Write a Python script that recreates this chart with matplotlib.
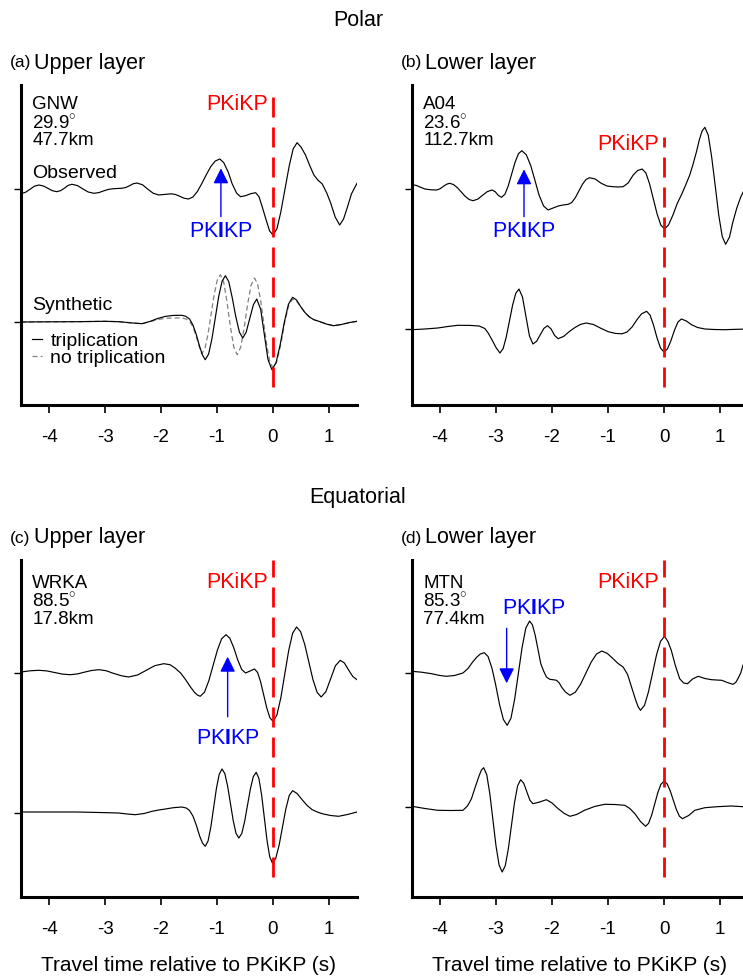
import numpy as np
import matplotlib
matplotlib.use('Agg')
import matplotlib.pyplot as plt

plt.rcParams['font.family'] = ['Liberation Sans', 'DejaVu Sans']
plt.rcParams['mathtext.fontset'] = 'custom'
plt.rcParams['mathtext.rm'] = 'Liberation Sans'
plt.rcParams['mathtext.bf'] = 'Liberation Sans:bold'
plt.rcParams['axes.unicode_minus'] = False

# time relative to PKiKP (s) and normalised amplitude
obs_a_t = [-4.50, -4.42, -4.34, -4.26, -4.18, -4.10, -4.02, -3.94, -3.86, -3.79,
           -3.72, -3.66, -3.59, -3.49, -3.40, -3.30, -3.20, -3.11, -3.03, -2.94,
           -2.85, -2.78, -2.70, -2.63, -2.56, -2.50, -2.43, -2.33, -2.24, -2.14,
           -2.04, -1.93, -1.82, -1.74, -1.66, -1.59, -1.51, -1.43, -1.35, -1.27,
           -1.19, -1.11, -1.03, -0.95, -0.88, -0.80, -0.73, -0.65, -0.58, -0.49,
           -0.40, -0.31, -0.25, -0.19, -0.12, -0.06, 0.00, 0.07, 0.14, 0.215,
           0.29, 0.36, 0.43, 0.50, 0.58, 0.66, 0.73, 0.80, 0.88, 0.96,
           1.03, 1.11, 1.19, 1.26, 1.33, 1.40, 1.46, 1.50]
obs_a_amp = [-4.5, -3.3, -0.3, 2.8, 4.0, 3.0, 0.7, -1.7, -2.7, -1.6,
             1.0, 3.6, 4.7, 3.4, 0.2, -3.0, -4.3, -3.6, -2.0, -0.4,
             0.3, 0.5, 0.7, 1.5, 3.3, 5.2, 6.0, 4.2, 0.0, -4.2,
             -6.0, -5.4, -4.8, -5.5, -7.4, -9.2, -10.0, -8.0, -2.5, 5.6,
             14.4, 22.5, 28.0, 30.0, 26.4, 17.0, 5.3, -4.1, -7.7, -6.7,
             -4.7, -3.7, -7.7, -18.3, -31.4, -42.0, -46.0, -39.8, -22.9, 0.2,
             23.2, 40.1, 46.3, 42.0, 34.0, 23.0, 14.0, 9.0, 5.0, -4.0,
             -14.0, -28.0, -36.0, -30.0, -18.0, -5.0, 1.5, 5.7]

syn_a_t = [-4.50, -4.00, -3.50, -3.00, -2.75, -2.55, -2.34, -2.20, -2.06, -1.92,
           -1.78, -1.63, -1.56, -1.49, -1.43, -1.37, -1.31, -1.26, -1.21, -1.15,
           -1.09, -1.03, -0.97, -0.91, -0.85, -0.79, -0.73, -0.665, -0.60, -0.54,
           -0.48, -0.415, -0.35, -0.29, -0.22, -0.155, -0.09, -0.02, 0.054, 0.128,
           0.202, 0.276, 0.35, 0.42, 0.49, 0.57, 0.65, 0.73, 0.82, 0.95,
           1.08, 1.22, 1.36, 1.50]
syn_a_amp = [0.0, 0.2, 0.3, 0.7, 0.3, -0.8, -1.7, 0.5, 3.5, 5.6,
             6.6, 6.7, 5.8, 3.0, -3.0, -12.5, -24.5, -33.0, -37.7, -32.1,
             -16.7, 4.3, 25.3, 40.7, 46.3, 40.4, 24.8, 5.5, -10.1, -16.0,
             -10.3, 3.5, 17.3, 23.0, 12.7, -12.4, -37.4, -47.7, -40.8, -22.7,
             -0.3, 17.8, 24.7, 22.0, 15.7, 9.5, 5.0, 2.3, 0.7, -2.0,
             -3.7, -2.5, -0.6, 0.7]

notrip_a_t = [-4.50, -4.00, -3.50, -3.00, -2.75, -2.55, -2.34, -2.20, -2.06, -1.92,
              -1.78, -1.63, -1.55, -1.48, -1.42, -1.36, -1.31, -1.27, -1.215, -1.16,
              -1.105, -1.05, -0.995, -0.94, -0.88, -0.82, -0.76, -0.70, -0.64, -0.578,
              -0.516, -0.454, -0.392, -0.33, -0.275, -0.22, -0.165, -0.11, -0.055, 0.00,
              0.07, 0.14, 0.21, 0.28, 0.35, 0.42, 0.49, 0.57, 0.65, 0.73,
              0.82, 0.95, 1.08, 1.22, 1.36, 1.50]
notrip_a_amp = [0.0, 0.2, 0.3, 0.7, 0.3, -0.8, -1.7, 0.2, 2.5, 3.6,
                4.0, 4.0, 3.0, 0.0, -6.0, -16.5, -26.0, -31.7, -26.4, -11.9,
                7.8, 27.6, 42.0, 47.3, 39.7, 19.7, -5.1, -25.1, -32.7, -25.4,
                -6.2, 17.5, 36.7, 44.0, 38.0, 21.5, -1.0, -23.5, -40.0, -46.0,
                -39.4, -22.2, -0.2, 16.5, 23.0, 21.0, 15.7, 9.5, 5.0, 2.3,
                0.7, -2.0, -3.7, -2.5, -0.6, 0.7]

obs_b_t = [-4.50, -4.42, -4.34, -4.27, -4.16, -4.06, -4.00, -3.94, -3.88, -3.83,
           -3.76, -3.69, -3.62, -3.55, -3.48, -3.41, -3.325, -3.24, -3.155, -3.07,
           -3.013, -2.957, -2.90, -2.84, -2.78, -2.72, -2.66, -2.60, -2.54, -2.46,
           -2.38, -2.305, -2.23, -2.15, -2.07, -1.98, -1.89, -1.80, -1.71, -1.647,
           -1.583, -1.52, -1.457, -1.393, -1.33, -1.23, -1.12, -1.02, -0.91, -0.82,
           -0.73, -0.64, -0.55, -0.47, -0.39, -0.323, -0.257, -0.19, -0.123, -0.057,
           0.01, 0.08, 0.16, 0.24, 0.31, 0.38, 0.46, 0.52, 0.58, 0.63,
           0.68, 0.73, 0.79, 0.85, 0.915, 0.977, 1.04, 1.10, 1.17, 1.23,
           1.30, 1.37, 1.44, 1.50]
obs_b_amp = [4.5, 3.5, 1.6, 0.0, -0.8, -1.0, 0.2, 2.6, 4.8, 5.7,
             4.5, 1.35, -3.0, -7.3, -10.5, -11.7, -10.1, -6.3, -2.6, -1.0,
             -2.8, -6.5, -8.3, -5.2, 3.35, 15.0, 26.6, 35.2, 38.3, 34.3,
             23.5, 8.65, -6.2, -17.0, -21.0, -19.0, -17.0, -16.0, -15.3, -13.5,
             -8.65, -2.0, 4.65, 9.5, 11.3, 10.0, 5.7, 3.0, 2.3, 2.0,
             2.3, 6.0, 14.0, 18.5, 20.0, 16.0, 5.0, -10.0, -25.0, -36.0,
             -40.0, -36.0, -26.0, -14.0, -6.0, 3.0, 14.0, 25.0, 37.3, 49.0,
             58.0, 61.7, 53.9, 32.5, 3.2, -26.0, -47.5, -55.3, -48.0, -33.0,
             -19.0, -8.0, 0.0, 5.0]

syn_b_t = [-4.50, -4.27, -4.04, -3.86, -3.68, -3.47, -3.30, -3.20, -3.14, -3.07,
           -3.00, -2.93, -2.873, -2.817, -2.76, -2.703, -2.647, -2.59, -2.5275, -2.465,
           -2.4025, -2.34, -2.275, -2.21, -2.145, -2.08, -2.017, -1.953, -1.89, -1.79,
           -1.69, -1.59, -1.49, -1.39, -1.26, -1.13, -1.00, -0.87, -0.75, -0.66,
           -0.57, -0.48, -0.40, -0.31, -0.248, -0.186, -0.124, -0.062, 0.00, 0.062,
           0.124, 0.186, 0.248, 0.31, 0.40, 0.49, 0.60, 0.73, 0.90, 1.08,
           1.30, 1.50]
syn_b_amp = [-0.7, 0.0, 1.0, 2.5, 3.7, 3.6, 3.0, 0.5, -4.0, -11.0,
             -18.5, -24.0, -19.7, -8.0, 8.0, 24.0, 35.7, 40.0, 32.0, 12.5,
             -7.0, -15.0, -12.3, -5.85, 0.6, 3.3, 0.1, -6.5, -9.7, -7.3,
             -2.5, 1.5, 4.6, 6.0, 4.5, 0.8, -2.6, -4.4, -4.8, -3.0,
             2.0, 9.5, 15.2, 17.7, 13.8, 3.7, -9.0, -19.1, -23.0, -19.9,
             -11.6, -1.4, 6.9, 10.0, 8.0, 4.3, 1.5, 0.0, -0.5, -0.7,
             -0.3, 0.0]

obs_c_t = [-4.50, -4.34, -4.18, -4.04, -3.90, -3.76, -3.62, -3.49, -3.37, -3.24,
           -3.11, -2.98, -2.85, -2.71, -2.58, -2.42, -2.265, -2.11, -1.95, -1.84,
           -1.75, -1.65, -1.56, -1.48, -1.40, -1.35, -1.30, -1.223, -1.147, -1.07,
           -0.993, -0.917, -0.84, -0.77, -0.70, -0.63, -0.56, -0.49, -0.41, -0.33,
           -0.275, -0.22, -0.165, -0.11, -0.055, 0.00, 0.07, 0.14, 0.21, 0.28,
           0.35, 0.42, 0.493, 0.567, 0.64, 0.713, 0.787, 0.86, 0.945, 1.03,
           1.115, 1.20, 1.275, 1.35, 1.425, 1.50]
obs_c_amp = [1.0, 2.2, 2.7, 2.1, 0.5, -1.1, -1.7, -0.9, 0.8, 2.5,
             3.3, 2.3, -0.35, -2.7, -4.0, -2.05, 2.65, 7.35, 9.3, 8.3,
             5.0, 0.0, -6.7, -13.5, -19.5, -22.0, -23.3, -19.2, -7.9, 7.5,
             22.9, 34.2, 38.3, 34.7, 25.1, 13.2, 3.6, 0.0, 2.0, 4.0,
             0.5, -9.1, -22.2, -35.2, -44.8, -48.3, -42.0, -24.7, -1.15, 22.4,
             39.7, 46.0, 41.3, 28.5, 11.0, -6.5, -19.3, -24.0, -18.6, -5.65,
             7.3, 12.7, 10.0, 3.0, -3.5, -6.7]

syn_c_t = [-4.50, -4.00, -3.50, -3.10, -2.76, -2.60, -2.46, -2.30, -2.16, -2.04,
           -1.92, -1.78, -1.63, -1.55, -1.49, -1.43, -1.37, -1.31, -1.26, -1.21,
           -1.16, -1.11, -1.06, -1.01, -0.96, -0.91, -0.86, -0.81, -0.76, -0.71,
           -0.66, -0.61, -0.558, -0.507, -0.455, -0.403, -0.352, -0.30, -0.252, -0.203,
           -0.155, -0.107, -0.058, -0.01, 0.05, 0.11, 0.17, 0.23, 0.29, 0.35,
           0.43, 0.52, 0.61, 0.70, 0.80, 0.90, 1.03, 1.17, 1.33, 1.50]
syn_c_amp = [1.0, 1.0, 1.0, 0.5, 0.0, -1.0, -1.7, -0.5, 1.7, 3.0,
             4.0, 5.3, 6.0, 5.0, 2.5, -3.0, -12.0, -23.0, -30.0, -33.3,
             -28.1, -14.0, 5.35, 24.7, 38.8, 44.0, 39.4, 26.75, 9.5, -7.75,
             -20.4, -25.0, -20.6, -8.6, 7.85, 24.3, 36.3, 40.7, 34.6, 18.0,
             -4.65, -27.3, -43.9, -50.0, -45.2, -31.9, -13.85, 4.2, 17.5, 22.3,
             19.5, 13.3, 7.5, 3.3, 0.8, -1.0, -2.5, -3.3, -1.5, 1.0]

obs_d_t = [-4.50, -4.33, -4.15, -4.02, -3.89, -3.74, -3.59, -3.50, -3.43, -3.35,
           -3.28, -3.21, -3.142, -3.073, -3.005, -2.937, -2.868, -2.80, -2.733, -2.667,
           -2.60, -2.533, -2.467, -2.40, -2.35, -2.30, -2.25, -2.20, -2.15, -2.10,
           -2.04, -1.97, -1.92, -1.87, -1.83, -1.76, -1.68, -1.585, -1.49, -1.395,
           -1.30, -1.205, -1.11, -1.01, -0.91, -0.82, -0.73, -0.65, -0.58, -0.50,
           -0.46, -0.42, -0.348, -0.277, -0.205, -0.133, -0.062, 0.01, 0.07, 0.13,
           0.20, 0.28, 0.35, 0.42, 0.51, 0.61, 0.73, 0.85, 0.94, 1.03,
           1.13, 1.23, 1.28, 1.32, 1.37, 1.41, 1.46, 1.50]
obs_d_amp = [1.7, 0.8, -0.7, -2.3, -3.3, -2.5, 0.0, 4.5, 10.0, 15.5,
             19.0, 20.3, 16.5, 5.0, -12.0, -31.5, -46.5, -52.3, -45.3, -26.2,
             -0.15, 25.9, 45.0, 52.0, 48.2, 37.75, 23.5, 9.25, 2.0, -4.0,
             -6.3, -6.8, -7.3, -10.0, -14.0, -19.0, -22.3, -19.3, -11.2, -0.15,
             10.9, 19.0, 22.0, 19.5, 14.3, 9.5, 6.0, -1.5, -14.0, -28.0,
             -34.0, -37.3, -32.3, -18.8, -0.3, 18.2, 31.7, 36.7, 31.5, 22.7,
             8.0, -5.7, -10.0, -10.7, -6.0, -3.3, -5.5, -6.7, -7.0, -7.3,
             -9.5, -11.3, -9.5, -5.7, 0.0, 7.7, 13.5, 18.0]

syn_d_t = [-4.50, -4.27, -4.04, -3.80, -3.59, -3.51, -3.44, -3.37, -3.30, -3.26,
           -3.22, -3.165, -3.11, -3.055, -3.00, -2.945, -2.89, -2.835, -2.78, -2.725,
           -2.67, -2.615, -2.56, -2.505, -2.45, -2.395, -2.34, -2.22, -2.10, -2.00,
           -1.89, -1.78, -1.68, -1.56, -1.42, -1.24, -1.06, -0.88, -0.70, -0.61,
           -0.52, -0.42, -0.33, -0.275, -0.22, -0.165, -0.11, -0.055, 0.00, 0.055,
           0.11, 0.165, 0.22, 0.275, 0.33, 0.44, 0.55, 0.73, 0.95, 1.20,
           1.50]
syn_d_amp = [0.7, -1.5, -3.3, -3.5, -3.3, 1.0, 8.0, 20.0, 31.5, 37.0,
             39.3, 32.3, 13.2, -12.85, -38.9, -58.0, -65.0, -58.8, -41.9, -18.85,
             4.2, 21.1, 27.3, 23.8, 15.3, 6.8, 3.3, 5.0, 7.3, 4.0,
             -1.7, -6.5, -9.3, -7.5, -3.3, 0.5, 2.7, 2.5, 1.7, -1.5,
             -6.7, -14.5, -19.3, -16.3, -8.05, 3.2, 14.45, 22.7, 25.7, 23.2,
             16.35, 7.0, -2.35, -9.2, -11.7, -8.5, -3.3, -0.7, 0.3, 1.0,
             0.0]

stations = ['GNW', 'A04', 'WRKA', 'MTN']
distances = ['29.9', '23.6', '88.5', '85.3']
depths = ['47.7km', '112.7km', '17.8km', '77.4km']
panel_tags = ['(a)', '(b)', '(c)', '(d)']
panel_names = ['Upper layer', 'Lower layer', 'Upper layer', 'Lower layer']
xticks = [-4, -3, -2, -1, 0, 1]

W, H = 743, 977
fig = plt.figure(figsize=(W / 100, H / 100), dpi=100)

# layout in pixels: axes box (left, top, right, bottom), trace baselines above the x axis
boxes = [(21, 85, 357, 405), (412, 85, 748, 405), (21, 560, 357, 897), (412, 560, 748, 897)]
obs_base = [216, 216, 224, 224]
syn_base = [83, 76, 84, 90]
red_span = [(90, 387), (137, 387), (560, 877), (560, 877)]
red_label_y = [105, 145, 583, 583]
info_y = [105, 105, 583, 583]
arrows = [(-0.93, 216.7, 168.3), (-2.50, 216.7, 169.3), (-0.81, 716.7, 656.7), (-2.81, 628.3, 683.3)]
arrow_text = [(-0.93, 231.7), (-2.50, 231.7), (-0.81, 738.3), (-2.32, 608.3)]

obs_t = [obs_a_t, obs_b_t, obs_c_t, obs_d_t]
obs_amp = [obs_a_amp, obs_b_amp, obs_c_amp, obs_d_amp]
syn_t = [syn_a_t, syn_b_t, syn_c_t, syn_d_t]
syn_amp = [syn_a_amp, syn_b_amp, syn_c_amp, syn_d_amp]

for i, (left, top, right, bottom) in enumerate(boxes):
    ax = fig.add_axes([left / W, 1 - bottom / H, (right - left) / W, (bottom - top) / H])
    hgt = bottom - top

    def py(p):
        return bottom - p

    if i == 0:
        nt, = ax.plot(notrip_a_t, syn_base[i] + np.array(notrip_a_amp), color='0.5', lw=0.9,
                      dashes=(4, 2.5))
    ax.plot(obs_t[i], obs_base[i] + np.array(obs_amp[i]), color='k', lw=0.85)
    tr, = ax.plot(syn_t[i], syn_base[i] + np.array(syn_amp[i]), color='k', lw=0.85)

    ax.axvline(0, ymin=py(red_span[i][1]) / hgt, ymax=py(red_span[i][0]) / hgt,
               color='#ff0000', lw=2, dashes=(7.2, 3.6))

    ax.set_xlim(-4.5, 1.5)
    ax.set_ylim(0, hgt)
    for s in ['top', 'right']:
        ax.spines[s].set_visible(False)
    for s in ['left', 'bottom']:
        ax.spines[s].set_linewidth(2.2)
    ax.set_yticks([syn_base[i], obs_base[i]])
    ax.set_yticklabels([])
    ax.tick_params(axis='y', length=5, width=1, direction='out')
    ax.set_xticks(xticks)
    ax.set_xticklabels([str(v) for v in xticks])
    ax.tick_params(axis='x', length=6, width=1.2, labelsize=13.5, pad=11)
    if i >= 2:
        ax.set_xlabel('Travel time relative to PKiKP (s)', fontsize=15, labelpad=13)

    # station information
    for k, s in enumerate([stations[i], distances[i] + r'$^{\circ}$', depths[i]]):
        ax.text(-4.30, py(info_y[i] + 18 * k), s, fontsize=13.5, va='center', ha='left')

    ax.text(-0.095, py(red_label_y[i]), 'PKiKP', color='#ff0000', fontsize=15.5, ha='right', va='center')

    at, tail, tip = arrows[i]
    ax.annotate('', xy=(at, py(tip)), xytext=(at, py(tail)),
                arrowprops=dict(arrowstyle='-|>,head_length=0.4,head_width=0.2', color='#0000ff',
                                lw=1, mutation_scale=23, shrinkA=0, shrinkB=0))
    ax.text(arrow_text[i][0], py(arrow_text[i][1]), r'PK$\mathbf{I}$KP', color='#0000ff', fontsize=15.5,
            ha='center', va='center')

    if i == 0:
        ax.text(-4.30, py(173.3), 'Observed', fontsize=14, va='center')
        ax.text(-4.30, py(306), 'Synthetic', fontsize=14, va='center')
        ax.legend([tr, nt], ['triplication', 'no triplication'], loc='upper left',
                  bbox_to_anchor=(11 / 336, py(332) / hgt), frameon=False, fontsize=14,
                  handlelength=0.5, handletextpad=0.45, labelspacing=0.0, borderpad=0, borderaxespad=0)

    fig.text((left - 11) / W, 1 - (top - 22) / H, panel_tags[i], fontsize=12.5, va='center', ha='left')
    fig.text((left + 13) / W, 1 - (top - 22) / H, panel_names[i], fontsize=15.5, va='center', ha='left')

fig.text(358 / W, 1 - 20 / H, 'Polar', fontsize=15.5, ha='center', va='center')
fig.text(358 / W, 1 - 498 / H, 'Equatorial', fontsize=15.5, ha='center', va='center')

fig.savefig('out.png', dpi=100)
